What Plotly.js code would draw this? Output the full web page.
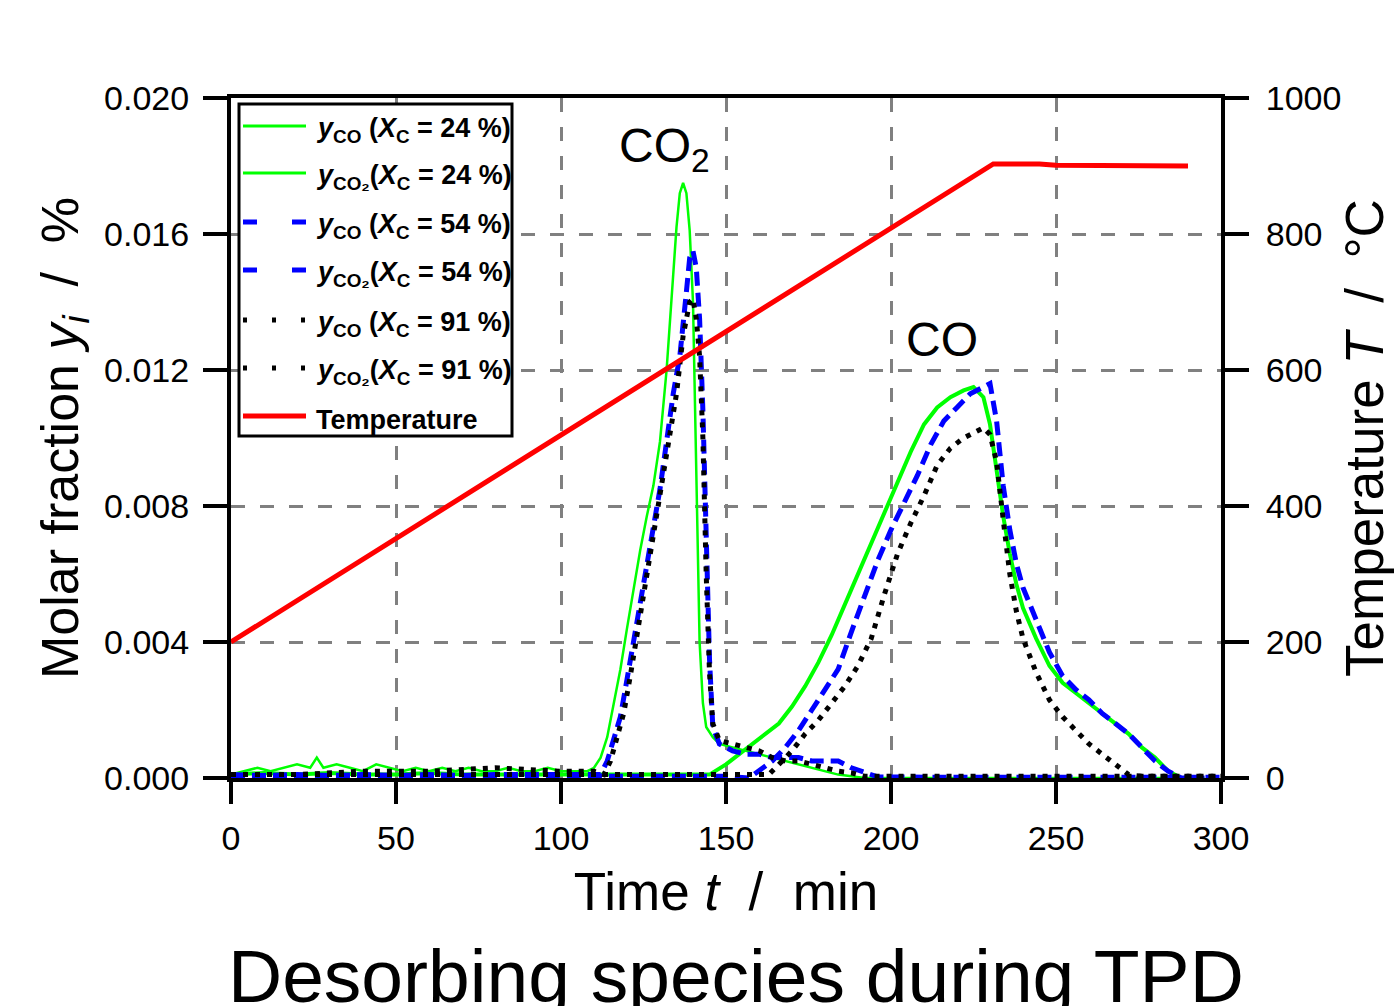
<!DOCTYPE html>
<html>
<head>
<meta charset="utf-8">
<script src="https://cdn.plot.ly/plotly-3.0.1.min.js"></script>
<style>html,body{margin:0;padding:0;background:#fff;}#chart{width:1394px;height:1006px;}</style>
</head>
<body>
<div id="chart"></div>
<script>
// ---- Data ----
const t_T = [0, 231, 245, 250, 290];
const T_C = [200, 903, 903, 901, 900];

const t_co_24 = [0,10,20,30,40,50,60,70,80,90,100,110,120,130,140,145,150,154,158,162,166,170,174,178,182,186,190,194,198,202,206,210,214,218,222,225,228,230,232,234,236,238,240,244,248,252,256,260,264,268,272,276,280,284,288,292];
const y_co_24 = [0.0001,0.00015,0.0001,0.00015,0.0001,0.0001,0.00015,0.0001,0.0001,0.0001,0.0001,0.0001,0.0001,0.0001,0.0001,0.0001,0.0004,0.0007,0.0010,0.0013,0.0016,0.0021,0.0027,0.0034,0.0042,0.0051,0.0060,0.0069,0.0078,0.0087,0.0096,0.0104,0.0109,0.0112,0.0114,0.0115,0.0112,0.0104,0.0091,0.0077,0.0066,0.0057,0.0050,0.0041,0.0033,0.0028,0.0025,0.0022,0.0019,0.0016,0.0013,0.0009,0.0006,0.0002,0.0000,0.0000];

const t_co2_24 = [0,4,8,12,16,20,24,26,28,32,36,40,44,48,52,56,60,64,68,72,76,80,84,88,92,96,100,104,108,110,112,114,116,118,120,122,124,126,128,130,132,134,135,136,137,138,139,140,141,142,143,144,146,148,152,156,160,164,168,172,176,180,184,188,192,200,220,240,260,280,295];
const y_co2_24 = [0.0001,0.0002,0.0003,0.0002,0.0003,0.0004,0.0003,0.0006,0.0003,0.0004,0.0003,0.0002,0.0004,0.0003,0.0002,0.0003,0.0002,0.0003,0.0002,0.0003,0.0002,0.0002,0.0003,0.0002,0.0002,0.0003,0.0002,0.0002,0.0002,0.0003,0.0006,0.0012,0.0022,0.0032,0.0044,0.0056,0.0067,0.0077,0.0086,0.0099,0.0120,0.0148,0.0162,0.0172,0.0175,0.0172,0.0161,0.0140,0.0085,0.0040,0.0022,0.0015,0.0012,0.0010,0.0009,0.0008,0.0007,0.0006,0.0005,0.0004,0.0003,0.0002,0.0001,0.00005,0.0000,0,0,0,0,0,0];

const t_co_54 = [0,20,40,60,80,100,120,140,150,157,160,164,168,172,176,180,184,188,192,196,200,204,208,212,216,220,224,228,230,232,234,236,238,240,244,248,252,256,260,264,268,272,276,280,284,288,295];
const y_co_54 = [0.00005,0.0001,0.00005,0.0001,0.00005,0.00005,0.00005,0.00005,0.00005,0.0000,0.0002,0.0005,0.0009,0.0014,0.0020,0.0026,0.0032,0.0043,0.0054,0.0064,0.0073,0.0081,0.0089,0.0098,0.0105,0.0109,0.0113,0.0115,0.0116,0.0105,0.0086,0.0073,0.0063,0.0056,0.0046,0.0037,0.0030,0.0026,0.0023,0.0019,0.0016,0.0013,0.0009,0.0005,0.0002,0.0000,0.0000];

const t_co2_54 = [0,20,40,60,80,100,110,112,114,116,118,120,122,124,126,128,130,132,134,136,137,138,139,140,141,142,143,144,145,146,148,152,156,160,164,168,172,176,180,184,188,192,196,220,250,280,300];
const y_co2_54 = [0.0001,0.00005,0.0001,0.00005,0.0001,0.0001,0.0001,0.0001,0.0005,0.0011,0.0018,0.0029,0.0040,0.0050,0.0061,0.0072,0.0085,0.0099,0.0113,0.0124,0.0132,0.0143,0.0153,0.0155,0.0150,0.0135,0.0108,0.0070,0.0035,0.0015,0.0010,0.0008,0.0007,0.0007,0.0006,0.0006,0.0006,0.0005,0.0005,0.0005,0.0003,0.00015,0.00003,0.00002,0.00002,0.00002,0.00002];

const t_co_91 = [0,20,40,60,80,100,120,140,160,163,166,170,174,178,182,186,190,194,198,202,206,210,214,218,222,226,228,230,232,234,236,238,240,244,248,252,256,260,264,268,272,276,285,300];
const y_co_91 = [0.0001,0.0001,0.0001,0.0001,0.0001,0.0001,0.0001,0.0001,0.0001,0.0001,0.0004,0.0008,0.0013,0.0017,0.0022,0.0027,0.0033,0.0041,0.0054,0.0066,0.0075,0.0083,0.0092,0.0097,0.0100,0.0102,0.0103,0.0101,0.0093,0.0076,0.0060,0.0049,0.0041,0.0031,0.0023,0.0018,0.0014,0.0010,0.0007,0.0004,0.0001,0.00005,0.00005,0.00005];

const t_co2_91 = [0,20,40,60,80,100,110,113,115,117,119,121,123,125,127,129,131,133,135,137,138,139,140,141,142,143,144,145,146,148,152,156,160,164,168,172,176,180,184,188,192,196,220,250,280,300];
const y_co2_91 = [0.0001,0.0001,0.0002,0.0002,0.0003,0.0002,0.0002,0.0001,0.0005,0.0012,0.0019,0.0030,0.0042,0.0054,0.0065,0.0076,0.0088,0.0100,0.0113,0.0130,0.0136,0.0140,0.0141,0.0135,0.0124,0.0100,0.0060,0.0031,0.0016,0.0011,0.0010,0.0009,0.0008,0.0006,0.0005,0.0005,0.0004,0.0003,0.0002,0.00015,0.00005,0.00005,0.00005,0.00005,0.00005,0.00005];

const xTicks = [0, 50, 100, 150, 200, 250, 300];
const yTicks = [0, 0.004, 0.008, 0.012, 0.016, 0.020];
const TTicks = [0, 200, 400, 600, 800, 1000];

const legendLabels = [
  "<i>y</i><sub>CO</sub> (<i>X</i><sub>C</sub> = 24 %)",
  "<i>y</i><sub>CO₂</sub>(<i>X</i><sub>C</sub> = 24 %)",
  "<i>y</i><sub>CO</sub> (<i>X</i><sub>C</sub> = 54 %)",
  "<i>y</i><sub>CO₂</sub>(<i>X</i><sub>C</sub> = 54 %)",
  "<i>y</i><sub>CO</sub> (<i>X</i><sub>C</sub> = 91 %)",
  "<i>y</i><sub>CO₂</sub>(<i>X</i><sub>C</sub> = 91 %)",
  "Temperature"
];

// ---- Styles ----
const GREEN = '#00ff00', BLUE = '#0000ff', BLACK = '#000000', RED = '#ff0000';
const FONT = 'Liberation Sans, Arial, sans-serif';
const greenThick = {color: GREEN, width: 4};
const greenLine = {color: GREEN, width: 2.5};
const blueLine = {color: BLUE, width: 5, dash: '14px,7px'};
const blackLine = {color: BLACK, width: 5, dash: '5px,7px'};
const redLine = {color: RED, width: 5};

const traces = [
  {x: t_co_24, y: y_co_24, line: greenThick},
  {x: t_co2_24, y: y_co2_24, line: greenLine},
  {x: t_co_54, y: y_co_54, line: blueLine},
  {x: t_co2_54, y: y_co2_54, line: blueLine},
  {x: t_co_91, y: y_co_91, line: blackLine},
  {x: t_co2_91, y: y_co2_91, line: blackLine},
  {x: t_T, y: T_C, yaxis: 'y2', line: redLine}
].map((tr, i) => Object.assign({type: 'scatter', mode: 'lines', name: legendLabels[i], showlegend: false, hoverinfo: 'skip'}, tr));

// ---- Manual legend (box, samples, labels) ----
const plotL = 231, plotR = 1221, plotT = 98, plotB = 778;
const px2x = p => (p - plotL) / (plotR - plotL);
const px2y = p => (plotB - p) / (plotB - plotT);
const legRows = [126, 173, 222, 270, 320, 368, 416];
const legStyles = [
  {color: GREEN, width: 3},
  {color: GREEN, width: 3},
  {color: BLUE, width: 5, dash: '14px,35px'},
  {color: BLUE, width: 5, dash: '14px,35px'},
  {color: BLACK, width: 5, dash: '4px,25px'},
  {color: BLACK, width: 5, dash: '4px,25px'},
  {color: RED, width: 5}
];
const shapes = [{
  type: 'rect', xref: 'paper', yref: 'paper', layer: 'above',
  x0: px2x(239), x1: px2x(512), y0: px2y(436), y1: px2y(104),
  line: {color: 'black', width: 3}, fillcolor: 'white'
}];
const annotations = [];
legRows.forEach((r, i) => {
  shapes.push({type: 'line', xref: 'paper', yref: 'paper', layer: 'above',
    x0: px2x(243), x1: px2x(306), y0: px2y(r), y1: px2y(r), line: legStyles[i]});
  annotations.push({xref: 'paper', yref: 'paper', x: px2x(314), y: px2y(r + 4),
    xanchor: 'left', yanchor: 'middle', showarrow: false, text: legendLabels[i],
    font: {family: FONT, size: 27, color: 'black', weight: 'bold'}});
});

annotations.push(
  {xref: 'x', yref: 'y', x: 117, y: 0.0185, xanchor: 'left', yanchor: 'middle', showarrow: false,
   text: 'CO<sub>2</sub>', font: {family: FONT, size: 48, color: 'black'}},
  {xref: 'x', yref: 'y', x: 204, y: 0.0129, xanchor: 'left', yanchor: 'middle', showarrow: false,
   text: 'CO', font: {family: FONT, size: 48, color: 'black'}},
  {xref: 'paper', yref: 'paper', x: px2x(736), y: px2y(976), xanchor: 'center', yanchor: 'middle', showarrow: false,
   text: 'Desorbing species during TPD', font: {family: FONT, size: 75, color: 'black'}}
);

const axisCommon = {
  showline: true, linecolor: 'black', linewidth: 4,
  ticks: 'outside', tickwidth: 4, tickcolor: 'black',
  tickfont: {family: FONT, size: 34, color: 'black'},
  zeroline: false, automargin: false
};

const layout = {
  width: 1394, height: 1006,
  margin: {l: plotL, r: 1394 - plotR, t: plotT, b: 1006 - plotB, pad: 0},
  paper_bgcolor: 'white', plot_bgcolor: 'white',
  font: {family: FONT, color: 'black'},
  showlegend: false,
  xaxis: Object.assign({}, axisCommon, {
    range: [0, 300], tickvals: xTicks, ticklen: 22, mirror: true,
    showgrid: true, gridcolor: '#808080', gridwidth: 3, griddash: '14px,15px',
    ticklabelstandoff: 5,
    title: {text: 'Time <i>t</i>\u00a0 /\u00a0 min', font: {family: FONT, size: 53, color: 'black'}, standoff: 18}
  }),
  yaxis: Object.assign({}, axisCommon, {
    range: [0, 0.020], tickvals: yTicks, tickformat: '.3f', ticklen: 24, mirror: true,
    showgrid: true, gridcolor: '#808080', gridwidth: 3, griddash: '14px,15px',
    ticklabelstandoff: 7,
    title: {text: 'Molar fraction <i>y</i><sub><i>i</i></sub>\u00a0 /\u00a0 %', font: {family: FONT, size: 52, color: 'black'}, standoff: 10}
  }),
  yaxis2: Object.assign({}, axisCommon, {
    range: [0, 1000], tickvals: TTicks, ticklen: 24, overlaying: 'y', side: 'right',
    showgrid: false, ticklabelstandoff: 10,
    title: {text: 'Temperature <i>T</i>\u00a0 /\u00a0 °C', font: {family: FONT, size: 53, color: 'black'}, standoff: 10}
  }),
  shapes: shapes,
  annotations: annotations
};

Plotly.newPlot('chart', traces, layout, {displayModeBar: false, staticPlot: true});
</script>
</body>
</html>
